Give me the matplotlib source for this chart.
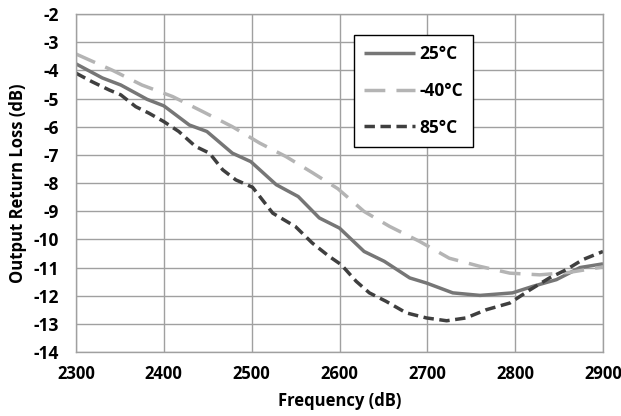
import matplotlib
matplotlib.use("Agg")
from matplotlib import pyplot as plt

# DATOS
freq_25 = [2300, 2330, 2351, 2381, 2400, 2429, 2449, 2478, 2499, 2528, 2553, 2577, 2600,
           2628, 2651, 2680, 2699, 2729, 2760, 2797, 2820, 2847, 2874, 2900]
loss_25 = [-3.77, -4.27, -4.52, -5.03, -5.26, -5.94, -6.17, -6.94, -7.24, -8.06, -8.48, -9.24, -9.6,
           -10.43, -10.78, -11.37, -11.55, -11.9, -11.99, -11.9, -11.67, -11.43, -11.0, -10.87]

freq_m40 = [2300, 2341, 2375, 2410, 2444, 2478, 2509, 2539, 2569, 2598, 2628, 2657,
            2691, 2725, 2760, 2794, 2828, 2862, 2900]
loss_m40 = [-3.42, -3.99, -4.52, -4.93, -5.46, -6.0, -6.58, -7.06, -7.63, -8.2, -9.01, -9.54,
            -10.07, -10.67, -10.96, -11.2, -11.26, -11.17, -10.98]

freq_85 = [2300, 2318, 2338, 2351, 2368, 2383, 2400, 2417, 2436, 2452, 2467, 2482, 2501,
           2524, 2550, 2569, 2588, 2602, 2619, 2634, 2653, 2676, 2699, 2722, 2744, 2767,
           2794, 2817, 2839, 2858, 2877, 2900]
loss_85 = [-4.1, -4.4, -4.7, -4.87, -5.29, -5.52, -5.82, -6.17, -6.7, -6.94, -7.53, -7.89, -8.15,
           -9.07, -9.55, -10.13, -10.6, -10.9, -11.49, -11.9, -12.2, -12.61, -12.79, -12.89,
           -12.79, -12.5, -12.26, -11.79, -11.37, -11.08, -10.72, -10.43]

x_ticks = list(range(2300, 2901, 100))
y_ticks = list(range(-14, -1))

# Fuente estrecha y en negrita, como en la original
plt.rcParams['font.family'] = ['Open Sans', 'DejaVu Sans']
plt.rcParams['font.stretch'] = 'condensed'
plt.rcParams['font.weight'] = 'bold'
plt.rcParams['axes.unicode_minus'] = False

fig = plt.figure(figsize=(6.21, 4.16), dpi=100)
ax = fig.add_axes([0.1224, 0.1538, 0.8486, 0.8125])

ax.plot(freq_25, loss_25, color='#767676', lw=2.5, label='25°C', solid_capstyle='butt')
ax.plot(freq_m40, loss_m40, color='#b4b4b4', lw=2.5, dashes=(6, 3.2), label='-40°C')
ax.plot(freq_85, loss_85, color='#3f3f3f', lw=2.5, dashes=(3, 1.6), label='85°C')

ax.set_xlim(2300, 2900)
ax.set_ylim(-14, -2)
ax.set_xticks(x_ticks)
ax.set_yticks(y_ticks)
ax.grid(True, color='#a0a0a0', lw=1.0)
ax.set_axisbelow(True)
for s in ax.spines.values():
    s.set_color('#a0a0a0')
    s.set_linewidth(1.0)
ax.tick_params(axis='y', length=0, labelsize=12.5, pad=12)
ax.tick_params(axis='x', length=0, labelsize=12, pad=9)
for lbl in ax.get_xticklabels() + ax.get_yticklabels():
    lbl.set_fontweight('bold')
    lbl.set_fontstretch('condensed')

ax.set_xlabel('Frequency (dB)', fontsize=12, fontweight='bold', fontstretch='condensed', labelpad=7)
ax.set_ylabel('Output Return Loss (dB)', fontsize=12, fontweight='bold', fontstretch='condensed', labelpad=5)

leg = ax.legend(loc='upper left', bbox_to_anchor=(0.5275, 0.938), fancybox=False,
                framealpha=1, edgecolor='black', fontsize=12.5, handlelength=2.9,
                labelspacing=1.07, borderpad=0.6, handletextpad=0.25, borderaxespad=0)
leg.get_frame().set_linewidth(1.0)
for t in leg.get_texts():
    t.set_fontweight('bold')
    t.set_fontstretch('condensed')

plt.savefig("out.png", dpi=100)
